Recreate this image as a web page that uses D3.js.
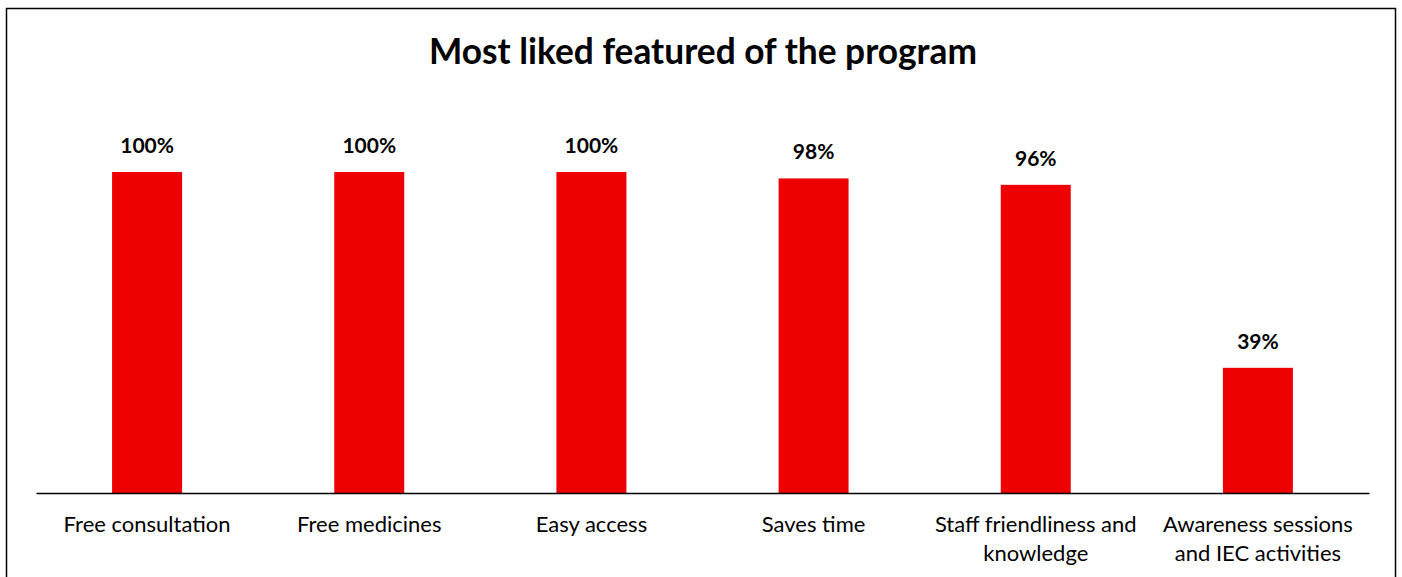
<!DOCTYPE html>
<html>
<head>
<meta charset="utf-8">
<script src="https://cdn.jsdelivr.net/npm/d3@7"></script>
<style>
  html, body { margin: 0; padding: 0; background: #fff; }
  svg { display: block; }
  text { font-family: Lato, "Open Sans", sans-serif; }
</style>
</head>
<body>
<svg id="chart" width="1402" height="577"></svg>
<script>
// Survey results: share of respondents who liked each feature
const categories = [
  ["Free consultation"],
  ["Free medicines"],
  ["Easy access"],
  ["Saves time"],
  ["Staff friendliness and", "knowledge"],
  ["Awareness sessions", "and IEC activities"]
];
const values = [100, 100, 100, 98, 96, 39];
const title = "Most liked featured of the program";

const svg = d3.select("#chart");
const W = 1402, H = 577;
const margin = { left: 36, right: 33, top: 172, bottom: 84 };
const baseY = H - margin.bottom;

// Outer frame
svg.append("rect")
  .attr("x", 6.5).attr("y", 8.5)
  .attr("width", 1389).attr("height", 580)
  .attr("fill", "#fff").attr("stroke", "#000").attr("stroke-width", 1.5);

const x = d3.scaleBand()
  .domain(d3.range(categories.length))
  .range([margin.left, W - margin.right])
  .paddingInner(0.685)
  .paddingOuter(0.3425);

const y = d3.scaleLinear()
  .domain([0, 100])
  .range([baseY, margin.top]);

// Title
svg.append("text")
  .attr("x", 703).attr("y", 64)
  .attr("text-anchor", "middle")
  .attr("font-size", 35.3).attr("font-weight", "bold")
  .attr("fill", "#000")
  .text(title);

// Bars
svg.append("g").selectAll("rect")
  .data(values)
  .join("rect")
  .attr("x", (d, i) => x(i))
  .attr("y", d => y(d))
  .attr("width", x.bandwidth())
  .attr("height", d => baseY - y(d))
  .attr("fill", "#EE0000");

// Value labels
svg.append("g").selectAll("text")
  .data(values)
  .join("text")
  .attr("x", (d, i) => x(i) + x.bandwidth() / 2)
  .attr("y", d => y(d) - 19)
  .attr("text-anchor", "middle")
  .attr("font-size", 21).attr("font-weight", "bold")
  .attr("fill", "#000")
  .text(d => d + "%");

// Category axis
const axis = d3.axisBottom(x).tickSize(0).tickFormat("");
const gAxis = svg.append("g")
  .attr("transform", `translate(0,${baseY})`)
  .call(axis);
gAxis.select(".domain").attr("stroke", "#000").attr("stroke-width", 1.5);

// Category labels (wrapped on two lines where needed)
const labels = svg.append("g").selectAll("text")
  .data(categories)
  .join("text")
  .attr("text-anchor", "middle")
  .attr("font-size", 22)
  .attr("fill", "#000");
labels.each(function (lines, i) {
  d3.select(this).selectAll("tspan")
    .data(lines)
    .join("tspan")
    .attr("x", x(i) + x.bandwidth() / 2)
    .attr("y", (d, j) => baseY + 39 + j * 29)
    .text(d => d);
});
</script>
</body>
</html>
